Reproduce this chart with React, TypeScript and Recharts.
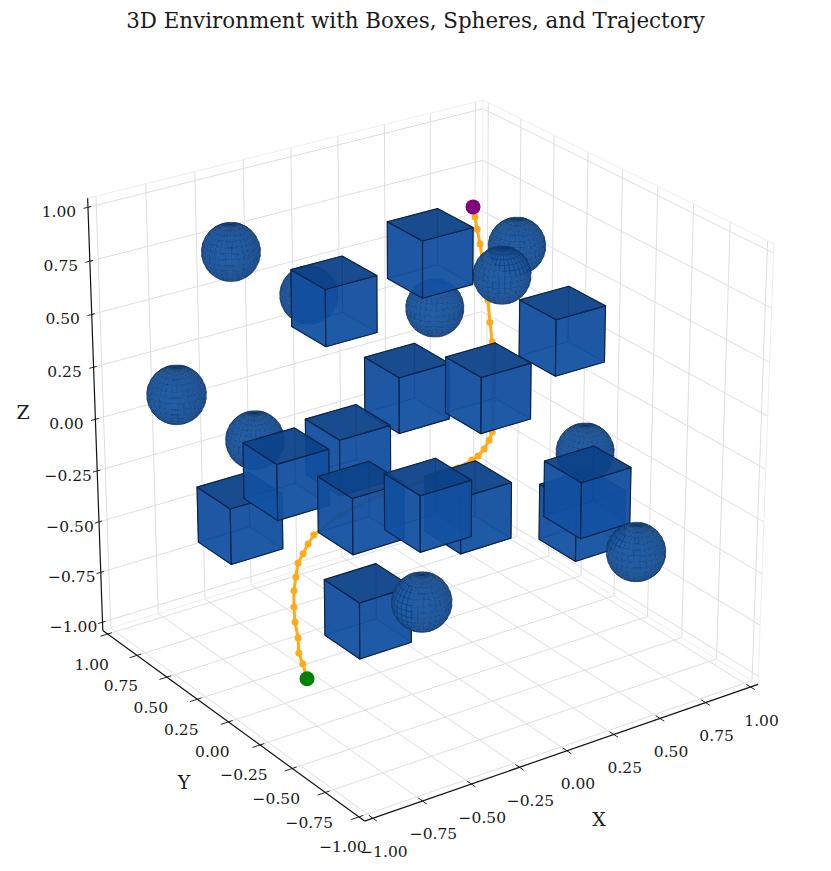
import { ScatterChart, Scatter, XAxis, YAxis } from 'recharts';

const W = 831;
const H = 871;

// view of the 3D scene (mplot3d style camera)
const ELEV = (25 * Math.PI) / 180;
const AZIM = (-125 * Math.PI) / 180;
const DIST = 19;
const SCALE = 231;
const CX = 426.5;
const CY = 444;
const LIM = 1.0417;

const ticks = [-1, -0.75, -0.5, -0.25, 0, 0.25, 0.5, 0.75, 1];
const tickLabels = ['\u22121.00', '\u22120.75', '\u22120.50', '\u22120.25', '0.00', '0.25', '0.50', '0.75', '1.00'];

const boxX = [0.213, -0.229, 0.654, 0.093, 0.33, -0.234, -0.578, -0.715, -0.4, -0.214, 0.029, 0.531, 0.492, -0.533];
const boxY = [0.277, 0.367, -0.095, 0.282, 0.004, 0.261, 0.228, 0.39, -0.082, -0.316, -0.271, -0.422, -0.507, -0.326];
const boxZ = [0.749, 0.6, 0.404, 0.137, 0.179, -0.066, -0.075, -0.312, -0.163, -0.109, -0.204, -0.322, -0.167, -0.518];
const BOX_HALF = 0.133;

const sphereX = [0.802, 0.608, 0.331, -0.159, -0.491, -0.929, -0.555, 0.719, 0.574, -0.412];
const sphereY = [0.445, 0.289, 0.409, 0.669, 0.774, 0.539, 0.508, -0.189, -0.753, -0.554];
const sphereZ = [0.586, 0.546, 0.415, 0.506, 0.753, 0.275, -0.027, -0.159, -0.379, -0.415];
const SPHERE_R = 0.128;

const trajX = [-0.67, -0.669, -0.672, -0.659, -0.653, -0.641, -0.624, -0.603, -0.58, -0.553, -0.525, -0.495, -0.38, -0.219, -0.043, 0.086, 0.144, 0.17, 0.199, 0.226, 0.246, 0.282, 0.34, 0.353, 0.369, 0.4, 0.405, 0.41, 0.414];
const trajY = [-0.055, -0.022, 0.004, 0.028, 0.06, 0.085, 0.109, 0.125, 0.141, 0.142, 0.144, 0.144, 0.109, 0.039, -0.051, -0.114, -0.137, -0.146, -0.151, -0.15, -0.145, -0.099, -0.01, 0.025, 0.063, 0.167, 0.196, 0.219, 0.24];
const trajZ = [-0.921, -0.863, -0.82, -0.761, -0.699, -0.64, -0.576, -0.522, -0.467, -0.431, -0.392, -0.357, -0.278, -0.2, -0.141, -0.094, -0.063, -0.047, -0.02, 0.015, 0.047, 0.172, 0.4, 0.478, 0.564, 0.785, 0.843, 0.891, 0.93];

type V3 = [number, number, number];

const w: V3 = [Math.cos(ELEV) * Math.cos(AZIM), Math.cos(ELEV) * Math.sin(AZIM), Math.sin(ELEV)];
const u: V3 = [-Math.sin(AZIM), Math.cos(AZIM), 0];
const v: V3 = [w[1] * u[2] - w[2] * u[1], w[2] * u[0] - w[0] * u[2], w[0] * u[1] - w[1] * u[0]];
const dot = (a: V3, b: V3) => a[0] * b[0] + a[1] * b[1] + a[2] * b[2];

const project = (p: V3): [number, number] => {
  const k = DIST / (DIST - dot(p, w));
  return [CX + SCALE * k * dot(p, u), CY - SCALE * k * dot(p, v)];
};

const segment = (pts: V3[], stroke: string, strokeWidth: number, closed = false) => {
  const s = pts.map(project);
  return { sx: s[0][0], sy: s[0][1], pts: s, stroke, strokeWidth, strokeOpacity: 1, closed, fill: 'none', fillOpacity: 0 };
};

const GRID = '#dedede';
const PANE = '#eeeeee';

const grid = [
  ...ticks.flatMap((t) => [
    segment([[t, -LIM, -LIM], [t, LIM, -LIM], [t, LIM, LIM]], GRID, 1),
    segment([[-LIM, t, -LIM], [LIM, t, -LIM], [LIM, t, LIM]], GRID, 1),
    segment([[-LIM, LIM, t], [LIM, LIM, t], [LIM, -LIM, t]], GRID, 1),
  ]),
  segment([[-LIM, LIM, LIM], [LIM, LIM, LIM], [LIM, -LIM, LIM], [LIM, -LIM, -LIM]], PANE, 1),
  segment([[LIM, LIM, -LIM], [LIM, LIM, LIM]], PANE, 1),
  segment([[-LIM, LIM, -LIM], [LIM, LIM, -LIM], [LIM, -LIM, -LIM]], PANE, 1),
];

const INK = '#111111';
const axes = [
  segment([[-LIM, -LIM, -LIM], [LIM, -LIM, -LIM]], INK, 1.2),
  segment([[-LIM, -LIM, -LIM], [-LIM, LIM, -LIM]], INK, 1.2),
  segment([[-LIM, LIM, -LIM], [-LIM, LIM, LIM]], INK, 1.2),
  ...ticks.flatMap((t) => [
    segment([[t, -LIM - 0.03, -LIM], [t, -LIM + 0.03, -LIM]], INK, 0.9),
    segment([[-LIM - 0.038, t, -LIM], [-LIM + 0.022, t, -LIM]], INK, 0.9),
    segment([[-LIM - 0.022, LIM, t], [-LIM + 0.016, LIM, t]], INK, 0.9),
  ]),
];

const label = (p: V3, dx: number, dy: number, text: string, size = 15.5) => {
  const [sx, sy] = project(p);
  return { sx, sy, dx, dy, text, size };
};

const labels = [
  ...ticks.flatMap((t, i) => [
    label([t, -LIM, -LIM], 11, 38.5, tickLabels[i]),
    label([-LIM, t, -LIM], -16, 35.5, tickLabels[i]),
    label([-LIM, LIM, t], -29, 10, tickLabels[i]),
  ]),
];

const axisNames = [
  { sx: 599, sy: 820, dx: 0, dy: 6, text: 'X', size: 19 },
  { sx: 184, sy: 783, dx: 0, dy: 6, text: 'Y', size: 19 },
  { sx: 23, sy: 413, dx: 0, dy: 6, text: 'Z', size: 19 },
];

const title = [{ sx: 415.5, sy: 21, dx: 0, dy: 7, text: '3D Environment with Boxes, Spheres, and Trajectory', size: 21.4 }];

const trajectory = trajX.map((x, i) => {
  const [sx, sy] = project([x, trajY[i], trajZ[i]]);
  return { sx, sy };
});
const startPoint = [trajectory[0]];
const endPoint = [trajectory[trajectory.length - 1]];

// translucent cube faces: -x, -y, +z are toward the viewer
const boxFaces = (c: V3, h: number) => {
  const at = (a: number, b: number, d: number): V3 => [c[0] + a * h, c[1] + b * h, c[2] + d * h];
  const faces: { q: V3[]; fill: string; front: boolean }[] = [
    { q: [at(1, -1, -1), at(1, 1, -1), at(1, 1, 1), at(1, -1, 1)], fill: '#0f4f9f', front: false },
    { q: [at(-1, 1, -1), at(1, 1, -1), at(1, 1, 1), at(-1, 1, 1)], fill: '#0f4f9f', front: false },
    { q: [at(-1, -1, -1), at(1, -1, -1), at(1, 1, -1), at(-1, 1, -1)], fill: '#1d68c4', front: false },
    { q: [at(-1, -1, -1), at(-1, 1, -1), at(-1, 1, 1), at(-1, -1, 1)], fill: '#124f9f', front: true },
    { q: [at(-1, -1, -1), at(1, -1, -1), at(1, -1, 1), at(-1, -1, 1)], fill: '#124f9f', front: true },
    { q: [at(-1, -1, 1), at(1, -1, 1), at(1, 1, 1), at(-1, 1, 1)], fill: '#0d4286', front: true },
  ];
  return faces.map((f) => {
    const s = segment(f.q, '#0a2348', f.front ? 1.15 : 0.8, true);
    return { ...s, fill: f.fill, fillOpacity: f.front ? 0.87 : 0.6, strokeOpacity: f.front ? 1 : 0.6 };
  });
};

const LIGHT: V3 = [-0.667, -0.667, 0.333];
const mix = (t: number) => {
  const a = [0x1a, 0x4e, 0x90];
  const b = [0x20, 0x5d, 0xa9];
  const c = a.map((n, i) => Math.round(n + (b[i] - n) * t));
  return `rgb(${c[0]},${c[1]},${c[2]})`;
};

const sphereFaces = (c: V3, r: number) => {
  const out: any[] = [];
  const SLICES = 30;
  const STACKS = 15;
  const normal = (i: number, j: number): V3 => {
    const th = (2 * Math.PI * i) / SLICES;
    const ph = (Math.PI * j) / STACKS;
    return [Math.cos(th) * Math.sin(ph), Math.sin(th) * Math.sin(ph), Math.cos(ph)];
  };
  const pos = (n: V3): V3 => [c[0] + r * n[0], c[1] + r * n[1], c[2] + r * n[2]];
  for (let j = 0; j < STACKS; j++) {
    for (let i = 0; i < SLICES; i++) {
      const m = normal(i + 0.5, j + 0.5);
      if (dot(m, w) < -0.05) continue;
      const q = [normal(i, j), normal(i + 1, j), normal(i + 1, j + 1), normal(i, j + 1)].map(pos);
      const s = segment(q, '#0f3568', 0.6, true);
      out.push({ ...s, fill: mix(Math.max(0, Math.min(1, dot(m, LIGHT)))), fillOpacity: 1, strokeOpacity: 0.65 });
    }
  }
  return out;
};

const objects = [
  ...boxX.map((x, i) => ({ c: [x, boxY[i], boxZ[i]] as V3, faces: boxFaces([x, boxY[i], boxZ[i]], BOX_HALF) })),
  ...sphereX.map((x, i) => ({ c: [x, sphereY[i], sphereZ[i]] as V3, faces: sphereFaces([x, sphereY[i], sphereZ[i]], SPHERE_R) })),
].sort((a, b) => dot(a.c, w) - dot(b.c, w));

const solids = objects.flatMap((o) => o.faces);

const Prim = ({ cx, cy, payload }: any) => {
  const ox = cx - payload.sx;
  const oy = cy - payload.sy;
  const d = payload.pts.map((p: number[], i: number) => `${i ? 'L' : 'M'}${(p[0] + ox).toFixed(2)},${(p[1] + oy).toFixed(2)}`).join('') + (payload.closed ? 'Z' : '');
  return <path d={d} fill={payload.fill} fillOpacity={payload.fillOpacity} stroke={payload.stroke} strokeWidth={payload.strokeWidth} strokeOpacity={payload.strokeOpacity} strokeLinejoin="round" />;
};

const Label = ({ cx, cy, payload }: any) => (
  <text x={cx + payload.dx} y={cy + payload.dy} textAnchor="middle" fontFamily="'DejaVu Serif', serif" fontSize={payload.size} fill="#1a1a1a">
    {payload.text}
  </text>
);

const dotShape = (r: number, fill: string) => ({ cx, cy }: any) => <circle cx={cx} cy={cy} r={r} fill={fill} />;

export default function App() {
  return (
    <div style={{ position: 'absolute', left: 0, top: 0, width: W, height: H, background: '#fff' }}>
      <ScatterChart width={W} height={H} margin={{ top: 0, right: 0, bottom: 0, left: 0 }}>
        <XAxis type="number" dataKey="sx" domain={[0, W]} hide allowDataOverflow />
        <YAxis type="number" dataKey="sy" domain={[0, H]} reversed hide allowDataOverflow />
        <Scatter data={grid} shape={Prim} isAnimationActive={false} />
        <Scatter data={axes} shape={Prim} isAnimationActive={false} />
        <Scatter data={trajectory} line={{ stroke: '#ffab1a', strokeWidth: 3 }} shape={dotShape(3.5, '#ffab1a')} isAnimationActive={false} />
        <Scatter data={startPoint} shape={dotShape(7.5, '#008000')} isAnimationActive={false} />
        <Scatter data={endPoint} shape={dotShape(7.5, '#800080')} isAnimationActive={false} />
        <Scatter data={solids} shape={Prim} isAnimationActive={false} />
        <Scatter data={labels} shape={Label} isAnimationActive={false} />
        <Scatter data={axisNames} shape={Label} isAnimationActive={false} />
        <Scatter data={title} shape={Label} isAnimationActive={false} />
      </ScatterChart>
    </div>
  );
}
